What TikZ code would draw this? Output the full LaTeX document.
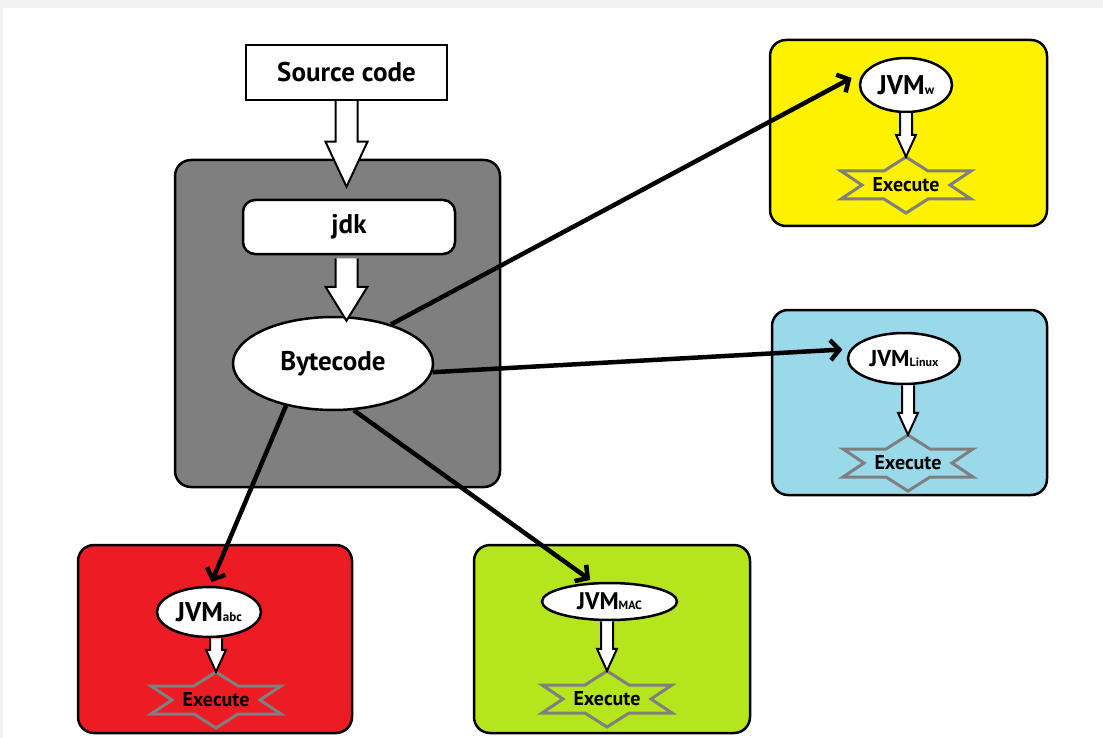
\documentclass[tikz,border=0pt]{standalone}
\usepackage{fontspec}
\setmainfont{PT Sans}
\usetikzlibrary{calc}
\usetikzlibrary{arrows.meta}
\usetikzlibrary{shapes.geometric}
\definecolor{boxgray}{HTML}{7F7F7F}
\definecolor{boxyellow}{HTML}{FFF200}
\definecolor{boxblue}{HTML}{99D9EA}
\definecolor{boxred}{HTML}{ED1C24}
\definecolor{boxgreen}{HTML}{B5E61D}
\definecolor{pagegray}{HTML}{F2F2F2}
\tikzset{%
  panel/.style = {rectangle,draw,rounded corners=16pt,line width=2.5pt,
        inner sep=0pt},
  srcbox/.style = {rectangle,draw,fill=white,line width=2.5pt,inner sep=0pt,
        font=\fontsize{27}{27}\selectfont\bfseries},
  bc/.style = {ellipse,draw,fill=white,line width=2.5pt,inner sep=0pt,
        font=\fontsize{27}{27}\selectfont\bfseries},
  vm/.style = {ellipse,draw,fill=white,line width=2.5pt,inner sep=0pt},
  ex/.style = {inner sep=0pt,minimum width=130pt,minimum height=56pt,
        font=\fontsize{20}{20}\selectfont\bfseries},
  hollow/.style = {draw=black,fill=white,line width=2pt,line join=miter},
  shiparrow/.style = {-{Straight Barb[length=9pt,width=20pt]},line width=4.5pt},
  starline/.style = {draw=boxgray,line width=3pt,line join=miter}
}
% hollow block arrow pointing down: from, to, half shaft, half head, head length
\newcommand\hollowdown[5]{%
  \draw[hollow] let \p1=(#1), \p2=(#2) in
    (\x1-#3pt,\y1) -- (\x1-#3pt,\y2+#5pt) -- (\x1-#4pt,\y2+#5pt) -- (\x1,\y2)
    -- (\x1+#4pt,\y2+#5pt) -- (\x1+#3pt,\y2+#5pt) -- (\x1+#3pt,\y1);}
% six pointed outline round an Execute node
\newcommand\execstar[1]{%
  \draw[starline,shift={(#1.center)}] (0,-28) -- (22,-14) -- (65,-14) -- (44,0)
    -- (65,14) -- (22,14) -- (0,28) -- (-22,14) -- (-65,14) -- (-44,0)
    -- (-65,-14) -- (-22,-14) -- cycle;}
\newcommand\vmsub[2]{\bfseries JVM{\fontsize{#2}{#2}\selectfont #1}}

\begin{document}
\begin{tikzpicture}[x=1pt,y=-1pt]
\useasboundingbox (0,0) rectangle (1103,738);
\fill[pagegray] (0,0) rectangle (1103,738);
\fill[white] (3,8) rectangle (1103,738);

% panels
\node[panel,fill=boxgray,minimum width=325pt,minimum height=327pt] (jvmbox) at (337.5,323.5) {};
\node[panel,fill=boxyellow,minimum width=277pt,minimum height=186pt] (wbox) at (908.5,133) {};
\node[panel,fill=boxblue,minimum width=275pt,minimum height=185pt] (linbox) at (909.5,402.5) {};
\node[panel,fill=boxred,minimum width=274pt,minimum height=188pt] (abcbox) at (215,639) {};
\node[panel,fill=boxgreen,minimum width=276pt,minimum height=188pt] (macbox) at (612,639) {};

% compile chain
\node[srcbox,minimum width=201pt,minimum height=55pt] (src) at (346.5,72.5) {Source code};
\node[srcbox,rounded corners=12pt,minimum width=212pt,minimum height=54pt] (jdk) at (349,227) {jdk};
\node[bc,minimum width=200pt,minimum height=93pt] (byte) at (333,363.5) {Bytecode};
\coordinate (srctip) at ($(src.south |- jdk.north)+(0,-12)$);
\coordinate (jdkout) at ($(src.south |- jdk.south)+(0,3)$);
\coordinate (bctip) at ($(src.south |- byte.north)+(0,5)$);
\hollowdown{src.south}{srctip}{11}{21}{45}
\hollowdown{jdkout}{bctip}{11}{21}{34}

% machines
\node[vm,minimum width=92pt,minimum height=54pt,font=\fontsize{27}{27}\selectfont] (jvmw) at (906,85) {\vmsub{w}{13}};
\node[vm,minimum width=112pt,minimum height=51pt,font=\fontsize{23}{23}\selectfont] (jvmlin) at (904,358.5) {\vmsub{Linux}{12}};
\node[vm,minimum width=104pt,minimum height=50pt,font=\fontsize{27}{27}\selectfont] (jvmabc) at (209,612) {\vmsub{abc}{13}};
\node[vm,minimum width=135pt,minimum height=37pt,font=\fontsize{24}{24}\selectfont] (jvmmac) at (609.5,601.5) {\vmsub{MAC}{12}};

\node[ex] (exw) at (906,185) {Execute};
\node[ex] (exlin) at (908,463) {Execute};
\node[ex] (exabc) at (216,700) {Execute};
\node[ex] (exmac) at (607,699) {Execute};
\execstar{exw}
\execstar{exlin}
\execstar{exabc}
\execstar{exmac}

\hollowdown{jvmw.south -| exw.north}{exw.north}{6}{10}{22}
\hollowdown{jvmlin.south -| exlin.north}{exlin.north}{6}{10}{22}
\hollowdown{jvmabc.south -| exabc.north}{exabc.north}{6}{10}{22}
\hollowdown{jvmmac.south -| exmac.north}{exmac.north}{6}{10}{22}

% bytecode to each machine
\draw[shiparrow,shorten >=16pt] (byte.34) -- (jvmw.160);
\draw[shiparrow,shorten >=8pt] (byte.355) -- (jvmlin.170);
\draw[shiparrow,shorten >=4pt] (byte.222) -- (jvmabc.88);
\draw[shiparrow,shorten >=4pt] (byte.294) -- (jvmmac.130);
\end{tikzpicture}
\end{document}
